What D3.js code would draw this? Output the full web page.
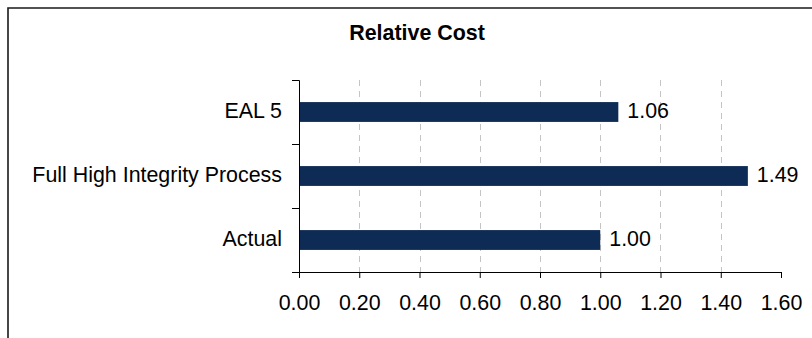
<!DOCTYPE html>
<html>
<head>
<meta charset="utf-8">
<script src="https://cdn.jsdelivr.net/npm/d3@7"></script>
<style>
  html, body { margin: 0; padding: 0; background: #fff; }
  svg { display: block; font-family: "Liberation Sans", Arial, sans-serif; }
</style>
</head>
<body>
<svg id="chart" width="812" height="338"></svg>
<script>
// Relative cost of each approach, top to bottom
const categories = ["EAL 5", "Full High Integrity Process", "Actual"];
const costValues = [1.06, 1.49, 1.00];
const tickValues = [0, 0.2, 0.4, 0.6, 0.8, 1.0, 1.2, 1.4, 1.6];
const chartTitle = "Relative Cost";

const W = 812, H = 338;
const plot = { left: 299, right: 781, top: 80, bottom: 272 };
const fontSize = 21.4;
const barColor = "#0e2b55";

const svg = d3.select("#chart");

// outer frame (top and left edges visible)
svg.append("path")
  .attr("d", `M8,${H} V8 H${W}`)
  .attr("fill", "none")
  .attr("stroke", "#1a1a1a")
  .attr("stroke-width", 1.6);

// title
svg.append("text")
  .attr("x", 417)
  .attr("y", 40)
  .attr("text-anchor", "middle")
  .attr("font-weight", "bold")
  .attr("font-size", fontSize)
  .attr("fill", "#000")
  .text(chartTitle);

const x = d3.scaleLinear().domain([0, 1.6]).range([plot.left, plot.right]);
const y = d3.scaleBand().domain(categories).range([plot.top, plot.bottom])
  .paddingInner(0.69).paddingOuter(0.345);
const yEdges = d3.scaleLinear().domain([0, categories.length]).range([plot.bottom, plot.top]);

// dashed vertical gridlines
svg.append("g")
  .selectAll("line")
  .data(tickValues.filter(v => v > 0 && v < 1.6))
  .join("line")
  .attr("x1", d => Math.round(x(d)) + 0.5)
  .attr("x2", d => Math.round(x(d)) + 0.5)
  .attr("y1", plot.top)
  .attr("y2", plot.bottom)
  .attr("stroke", "#c4c4c4")
  .attr("stroke-width", 1)
  .attr("stroke-dasharray", "6,5");

const rows = categories.map((c, i) => ({ c, v: costValues[i] }));

// bars
svg.append("g")
  .selectAll("rect")
  .data(rows)
  .join("rect")
  .attr("x", x(0))
  .attr("y", d => y(d.c))
  .attr("width", d => x(d.v) - x(0))
  .attr("height", y.bandwidth())
  .attr("fill", barColor);

// value labels
svg.append("g")
  .selectAll("text")
  .data(rows)
  .join("text")
  .attr("x", d => x(d.v) + 9)
  .attr("y", d => y(d.c) + y.bandwidth() / 2)
  .attr("dy", "0.3em")
  .attr("font-size", fontSize)
  .attr("fill", "#000")
  .text(d => d.v.toFixed(2));

// x axis
const xAxis = svg.append("g")
  .attr("transform", `translate(0,${plot.bottom})`)
  .call(d3.axisBottom(x).tickValues(tickValues).tickFormat(d3.format(".2f"))
    .tickSizeOuter(0).tickSize(6).tickPadding(17));
xAxis.select(".domain").attr("stroke", "#000");
xAxis.selectAll(".tick line").attr("stroke", "#000");
xAxis.selectAll(".tick text")
  .attr("font-size", fontSize)
  .attr("fill", "#000");
xAxis.attr("font-family", null);

// y axis: ticks on category boundaries
const yAxis = svg.append("g")
  .attr("transform", `translate(${plot.left},0)`)
  .call(d3.axisLeft(yEdges).tickValues(d3.range(categories.length + 1)).tickFormat("")
    .tickSizeOuter(0).tickSize(7));
yAxis.select(".domain").attr("stroke", "#000");
yAxis.selectAll(".tick line").attr("stroke", "#000");

// category labels
svg.append("g")
  .selectAll("text")
  .data(categories)
  .join("text")
  .attr("x", plot.left - 17)
  .attr("y", d => y(d) + y.bandwidth() / 2)
  .attr("dy", "0.3em")
  .attr("text-anchor", "end")
  .attr("font-size", fontSize)
  .attr("fill", "#000")
  .text(d => d);
</script>
</body>
</html>
